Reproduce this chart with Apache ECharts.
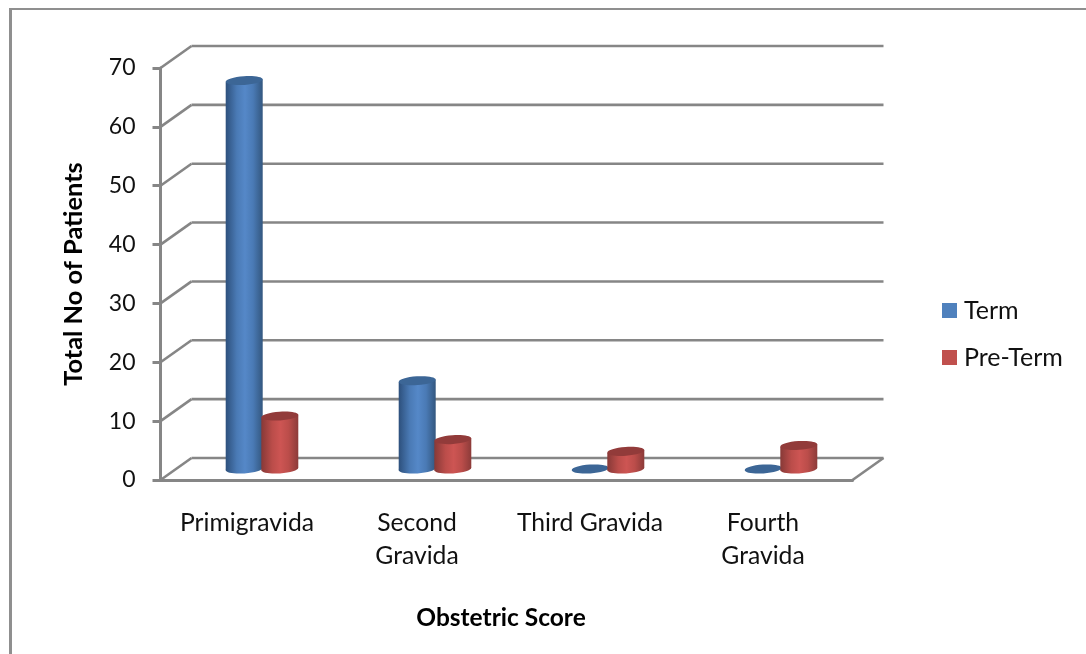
<!DOCTYPE html>
<html>
<head>
<meta charset="utf-8">
<style>html,body{margin:0;padding:0;background:#fff}#chart{width:1086px;height:654px}</style>
<script src="https://cdn.jsdelivr.net/npm/echarts@6/dist/echarts.min.js"></script>
</head>
<body>
<div id="chart"></div>
<script>
// Obstetric score by delivery outcome
const categories = ['Primigravida', 'Second\nGravida', 'Third Gravida', 'Fourth\nGravida'];
const termValues = [66, 15, 0, 0];
const preTermValues = [9, 5, 3, 4];
const yTicks = [0, 10, 20, 30, 40, 50, 60, 70];

const labelFont = 'Lato, "Open Sans", sans-serif';
const lineGrey = '#868686';
// Pseudo-3D projection: wall sits behind the front plane, bars halfway between
const wallDepth = [31, -22];
const barDepth = [15, -11];
const barRadius = 18.5;
const barShift = 17.8;
const ellipseRy = 4.4;
const tilt = 0.07;

const chart = echarts.init(document.getElementById('chart'), null, { renderer: 'canvas' });

function bodyGradient(c) {
  return new echarts.graphic.LinearGradient(0, 0, 1, 0, [
    { offset: 0, color: c.edge },
    { offset: 0.3, color: c.shoulder },
    { offset: 0.52, color: c.mid },
    { offset: 0.74, color: c.shoulder },
    { offset: 1, color: c.edge2 }
  ]);
}

// One cylinder standing on the mid-depth floor line
function cylinder(side, colors) {
  return function (params, api) {
    const cat = api.value(0);
    const top = api.coord([cat, api.value(1)]);
    const base = api.coord([cat, 0]);
    const cx = top[0] + barDepth[0] + side * barShift;
    const yTop = top[1] + barDepth[1];
    const yBase = base[1] + barDepth[1];
    const rise = Math.sin(tilt) * barRadius;
    const fill = bodyGradient(colors);
    const ellipse = (cy, color) => ({
      type: 'ellipse',
      originX: cx, originY: cy, rotation: tilt,
      shape: { cx: cx, cy: cy, rx: barRadius, ry: ellipseRy },
      style: { fill: color }
    });
    const children = [];
    if (api.value(1) > 0) {
      children.push(ellipse(yBase, fill));
      children.push({
        type: 'polygon',
        shape: { points: [
          [cx - barRadius, yTop + rise], [cx + barRadius, yTop - rise],
          [cx + barRadius, yBase - rise], [cx - barRadius, yBase + rise]
        ] },
        style: { fill: fill }
      });
    }
    children.push(ellipse(yTop, colors.cap));
    return { type: 'group', children: children };
  };
}

// Side and back wall lines for each value tick, plus the floor's right edge
function wallLines(params, api) {
  const v = api.value(0);
  const p = api.coord([0, v]);
  const sys = params.coordSys;
  const front = [sys.x, p[1]];
  const back = [sys.x + wallDepth[0], p[1] + wallDepth[1]];
  const backEnd = [sys.x + sys.width + wallDepth[0], back[1]];
  const style = { stroke: lineGrey, lineWidth: 2.6, fill: null };
  const children = [
    { type: 'line', shape: { x1: front[0], y1: front[1], x2: back[0], y2: back[1] }, style: style },
    { type: 'line', shape: { x1: back[0], y1: back[1], x2: backEnd[0], y2: backEnd[1] }, style: style }
  ];
  if (v === 0) {
    children.push({
      type: 'line',
      shape: { x1: sys.x + sys.width, y1: front[1], x2: backEnd[0], y2: backEnd[1] },
      style: style
    });
  }
  return { type: 'group', children: children };
}

const blue = { edge: '#2d507c', shoulder: '#4a7ab5', mid: '#5588c8', edge2: '#33577f', cap: '#3c6696' };
const red = { edge: '#873937', shoulder: '#bb4d4a', mid: '#cd5553', edge2: '#8c3b39', cap: '#923b3a' };

chart.setOption({
  animation: false,
  backgroundColor: '#fff',
  textStyle: { fontFamily: labelFont },
  grid: { left: 160.5, top: 68, width: 692, height: 412, containLabel: false },
  graphic: [
    { type: 'rect', silent: true, shape: { x: 9, y: 8, width: 3, height: 646 }, style: { fill: '#8f8f8f' } },
    { type: 'rect', silent: true, shape: { x: 9, y: 8, width: 1077, height: 2 }, style: { fill: '#8f8f8f' } }
  ],
  legend: {
    data: ['Term', 'Pre-Term'],
    orient: 'vertical',
    left: 942, top: 298,
    padding: 0,
    icon: 'rect',
    itemWidth: 15, itemHeight: 15, itemGap: 22,
    selectedMode: false,
    textStyle: { fontFamily: labelFont, fontSize: 25, color: '#111', padding: [0, 0, 0, 2] }
  },
  xAxis: {
    type: 'category',
    data: categories.map((c, i) => ({
      value: c,
      textStyle: { padding: i === 0 ? 0 : [0, 6, 0, 0] }
    })),
    axisLine: { show: true, lineStyle: { color: lineGrey, width: 3 } },
    axisTick: { show: false },
    axisLabel: {
      interval: 0, margin: 27, fontFamily: labelFont, fontSize: 24.7, lineHeight: 33, color: '#111'
    },
    name: 'Obstetric Score',
    nameLocation: 'middle',
    nameGap: 126,
    nameTextStyle: {
      fontFamily: labelFont, fontSize: 24.5, fontWeight: 'bold', color: '#000', padding: [0, 11, 0, 0]
    }
  },
  yAxis: {
    type: 'value',
    min: 0, max: 70, interval: 10,
    axisLine: { show: true, lineStyle: { color: lineGrey, width: 3 } },
    axisTick: { show: true, length: 8, lineStyle: { color: lineGrey, width: 3 } },
    splitLine: { show: false },
    axisLabel: {
      margin: 25, fontFamily: labelFont, fontSize: 23, color: '#111', padding: [3, 0, 0, 0],
      formatter: (v) => (yTicks.includes(v) ? String(v) : '')
    },
    name: 'Total No of Patients',
    nameLocation: 'middle',
    nameRotate: 90,
    nameGap: 74,
    nameTextStyle: {
      fontFamily: labelFont, fontSize: 25.4, fontWeight: 'bold', color: '#000'
    }
  },
  series: [
    {
      name: 'walls', type: 'custom', z: 1, silent: true,
      coordinateSystem: 'cartesian2d',
      encode: { y: 0 },
      data: yTicks.map((v) => [v]),
      renderItem: wallLines,
      clip: false
    },
    {
      name: 'Term', type: 'custom', z: 2, silent: true,
      coordinateSystem: 'cartesian2d',
      itemStyle: { color: '#4f81bd' },
      encode: { x: 0, y: 1 },
      data: termValues.map((v, i) => [i, v]),
      renderItem: cylinder(-1, blue),
      clip: false
    },
    {
      name: 'Pre-Term', type: 'custom', z: 3, silent: true,
      coordinateSystem: 'cartesian2d',
      itemStyle: { color: '#c0504d' },
      encode: { x: 0, y: 1 },
      data: preTermValues.map((v, i) => [i, v]),
      renderItem: cylinder(1, red),
      clip: false
    }
  ]
});
</script>
</body>
</html>
